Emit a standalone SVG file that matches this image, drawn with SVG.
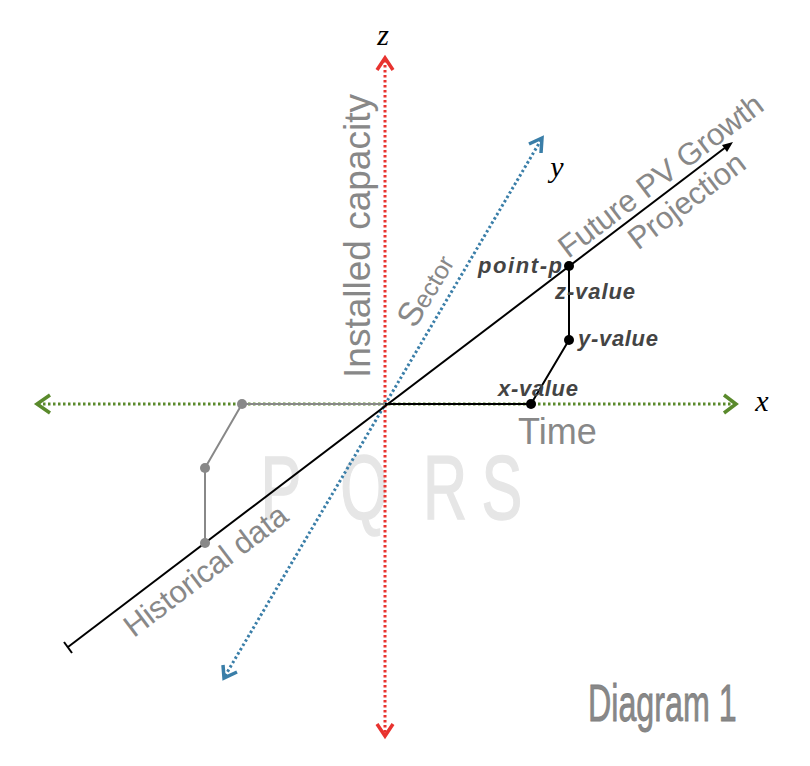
<svg xmlns="http://www.w3.org/2000/svg" width="810" height="766" viewBox="0 0 810 766">
<style>
.ax{fill:none;stroke-width:3;stroke-dasharray:2.5 2.5}
.ah{fill:none;stroke-width:3.5;stroke-linecap:butt;stroke-linejoin:miter}
.lbl{font-family:"Liberation Sans",Arial,sans-serif;fill:#888888}
.val{font-family:"Liberation Sans",Arial,sans-serif;font-weight:bold;font-style:italic;fill:#444444;font-size:22px}
.axn{font-family:"Liberation Serif","Times New Roman",serif;font-style:italic;font-size:30px;fill:#000}
.wm{font-family:"Liberation Sans",Arial,sans-serif;fill:#e6e6e6;stroke:#e6e6e6;stroke-width:1.5;font-size:90px}
</style>
<g id="watermark">
<text class="wm" transform="translate(281,519) scale(0.68,1)" text-anchor="middle">P</text>
<text class="wm" transform="translate(364,519) scale(0.68,1)" text-anchor="middle">Q</text>
<text class="wm" transform="translate(445,519) scale(0.68,1)" text-anchor="middle">R</text>
<text class="wm" transform="translate(502,519) scale(0.68,1)" text-anchor="middle">S</text>
</g>
<g id="connectors">
<line class="ax" x1="385" y1="60" x2="385" y2="735" stroke="#e8332f"/>
<path class="ah" d="M377,70 L385,58 L393,70" stroke="#e8332f"/>
<path class="ah" d="M377,724 L385,736 L393,724" stroke="#e8332f"/>
<line class="ax" x1="38" y1="404" x2="734" y2="404" stroke="#5a8a2c"/>
<path class="ah" d="M50,395 L37,404 L50,413" stroke="#5a8a2c"/>
<path class="ah" d="M724,395 L736,404 L724,413" stroke="#5a8a2c"/>
<line class="ax" x1="225" y1="676" x2="541" y2="140" stroke="#3a7ea8"/>
<path class="ah" d="M529,144 L542,138 L541,153" stroke="#3a7ea8"/>
<path class="ah" d="M223,665 L224,678 L237,672" stroke="#3a7ea8"/>
<line x1="68" y1="647" x2="726" y2="147" stroke="#000" stroke-width="2"/>
<path d="M733,142 L722,145 L727,152 Z" fill="#000"/>
<line x1="64" y1="642" x2="72" y2="653" stroke="#000" stroke-width="2"/>
<line x1="242" y1="404" x2="385" y2="404" stroke="#888" stroke-width="2"/>
<polyline points="242,404 205,468 205,543" fill="none" stroke="#888" stroke-width="2"/>
<line x1="385" y1="404" x2="531" y2="404" stroke="#000" stroke-width="2"/>
<polyline points="531,404 569,340 569,266" fill="none" stroke="#000" stroke-width="2"/>
</g>
<g id="hist-points" fill="#888">
<circle cx="242" cy="404" r="5"/>
<circle cx="205" cy="468" r="5"/>
<circle cx="205" cy="543" r="5"/>
</g>
<g id="point-p"><circle cx="569" cy="266" r="5" fill="#000"/><text class="val" x="562" y="273" text-anchor="end" textLength="84">point-p</text></g>
<g id="z-value"><text class="val" x="555" y="299" textLength="80">z-value</text></g>
<g id="y-value"><circle cx="569" cy="340" r="5" fill="#000"/><text class="val" x="578" y="346" textLength="80">y-value</text></g>
<g id="x-value"><circle cx="531" cy="404" r="5" fill="#000"/><text class="val" x="498" y="396" textLength="80">x-value</text></g>
<g id="axis-labels">
<text class="axn" x="383" y="45" text-anchor="middle">z</text>
<text class="axn" x="557" y="177" text-anchor="middle">y</text>
<text class="axn" x="762" y="411" text-anchor="middle">x</text>
</g>
<g id="labels">
<text class="lbl" font-size="37" transform="translate(370,236) rotate(-90)" text-anchor="middle">Installed capacity</text>
<text class="lbl" transform="translate(435,296) rotate(-59.2)" text-anchor="middle"><tspan font-size="34">S</tspan><tspan font-size="25">ector</tspan></text>
<text class="lbl" font-size="31" transform="translate(667,184) rotate(-37.2)" text-anchor="middle">Future PV Growth</text>
<text class="lbl" font-size="31" transform="translate(693,209) rotate(-37.2)" text-anchor="middle">Projection</text>
<text class="lbl" font-size="31" transform="translate(212,579) rotate(-37.2)" text-anchor="middle">Historical data</text>
<text class="lbl" font-size="36" x="518" y="444">Time</text>
</g>
<g id="title"><text class="lbl" font-size="52" fill="#808080" transform="translate(588,721) scale(0.62,1)" stroke="#808080" stroke-width="0.8">Diagram 1</text></g>
</svg>
